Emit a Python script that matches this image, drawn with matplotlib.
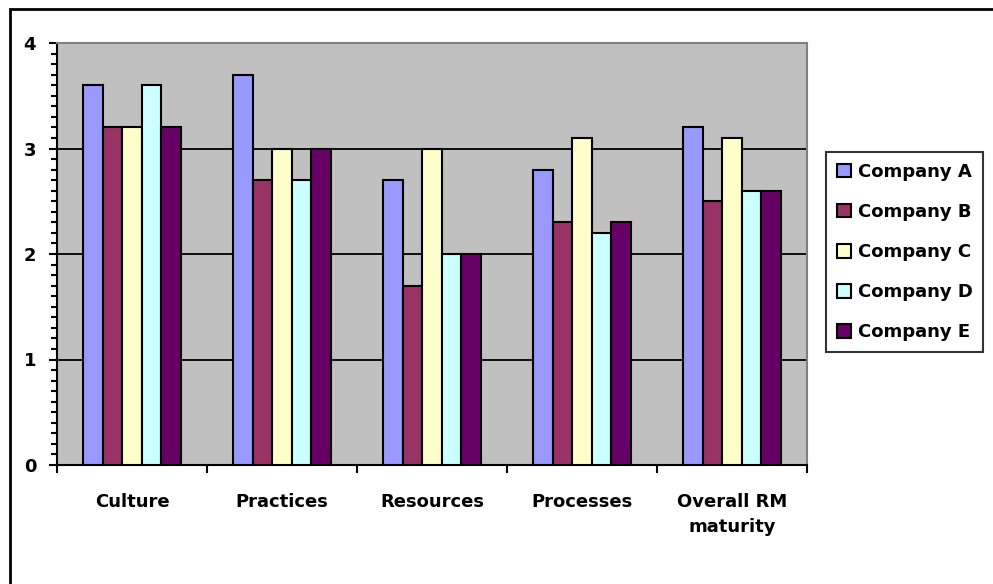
import matplotlib
matplotlib.use('Agg')
import matplotlib.pyplot as plt
import numpy as np
from matplotlib.patches import Rectangle

# Data
categories = ['Culture', 'Practices', 'Resources', 'Processes', 'Overall RM\nmaturity']
companies = ['Company A', 'Company B', 'Company C', 'Company D', 'Company E']
company_a = [3.6, 3.7, 2.7, 2.8, 3.2]
company_b = [3.2, 2.7, 1.7, 2.3, 2.5]
company_c = [3.2, 3.0, 3.0, 3.1, 3.1]
company_d = [3.6, 2.7, 2.0, 2.2, 2.6]
company_e = [3.2, 3.0, 2.0, 2.3, 2.6]
series = [company_a, company_b, company_c, company_d, company_e]
colors = ['#9999FF', '#993366', '#FFFFCC', '#CCFFFF', '#660066']

plt.rcParams['font.family'] = ['DejaVu Sans']

fig = plt.figure(figsize=(9.93, 5.84), dpi=100)
ax = fig.add_axes([57/993, 119/584, 750/993, 422/584])

# outer chart border (only left and top edges show, the rest is cropped)
fig.patches.append(Rectangle((10/993, -0.1), 1.2, 1.1 - 9/584, transform=fig.transFigure,
                             fill=False, edgecolor='black', linewidth=2, clip_on=True))

x = np.arange(len(categories))
width = 0.13
for i, (vals, c, name) in enumerate(zip(series, colors, companies)):
  ax.bar(x + (i - 2) * width, vals, width, color=c, edgecolor='black', linewidth=1.5,
         label=name, zorder=3)

# Graphics details
ax.set_facecolor('#C0C0C0')
ax.set_xlim(-0.5, len(categories) - 0.5)
ax.set_ylim(0, 4)
ax.set_yticks([0, 1, 2, 3, 4])
ax.set_yticks(np.arange(0, 4.01, 0.1), minor=True)
ax.yaxis.grid(True, color='black', linewidth=1.3, zorder=1)
ax.set_axisbelow(True)
ax.set_xticks(np.arange(-0.5, len(categories), 1.0))
ax.set_xticklabels([])
ax.set_xticks(x, minor=True)
ax.set_xticklabels(categories, minor=True, fontsize=13, fontweight='bold',
                   linespacing=1.55)
ax.tick_params(axis='x', which='minor', length=0, pad=20)
ax.tick_params(axis='x', which='major', length=6, width=1.5, direction='out')
ax.tick_params(axis='y', which='major', length=6, width=1.5, labelsize=13, pad=9)
ax.tick_params(axis='y', which='minor', length=4, width=1.5)
for lab in ax.get_yticklabels():
  lab.set_fontweight('bold')

ax.spines['left'].set_linewidth(1.5)
ax.spines['bottom'].set_linewidth(1.5)
ax.spines['top'].set_color('#808080')
ax.spines['right'].set_color('#808080')
ax.spines['top'].set_linewidth(1.5)
ax.spines['right'].set_linewidth(1.5)

leg = fig.legend(loc='upper left', bbox_to_anchor=(826/993, 1 - 152/584),
                 frameon=True, fancybox=False, edgecolor='black',
                 prop={'weight': 'bold', 'size': 13}, handlelength=0.8,
                 handleheight=0.8, handletextpad=0.35, labelspacing=1.22,
                 borderpad=0.6, borderaxespad=0)
leg.get_frame().set_linewidth(1.5)

plt.savefig('out.png', dpi=100)
